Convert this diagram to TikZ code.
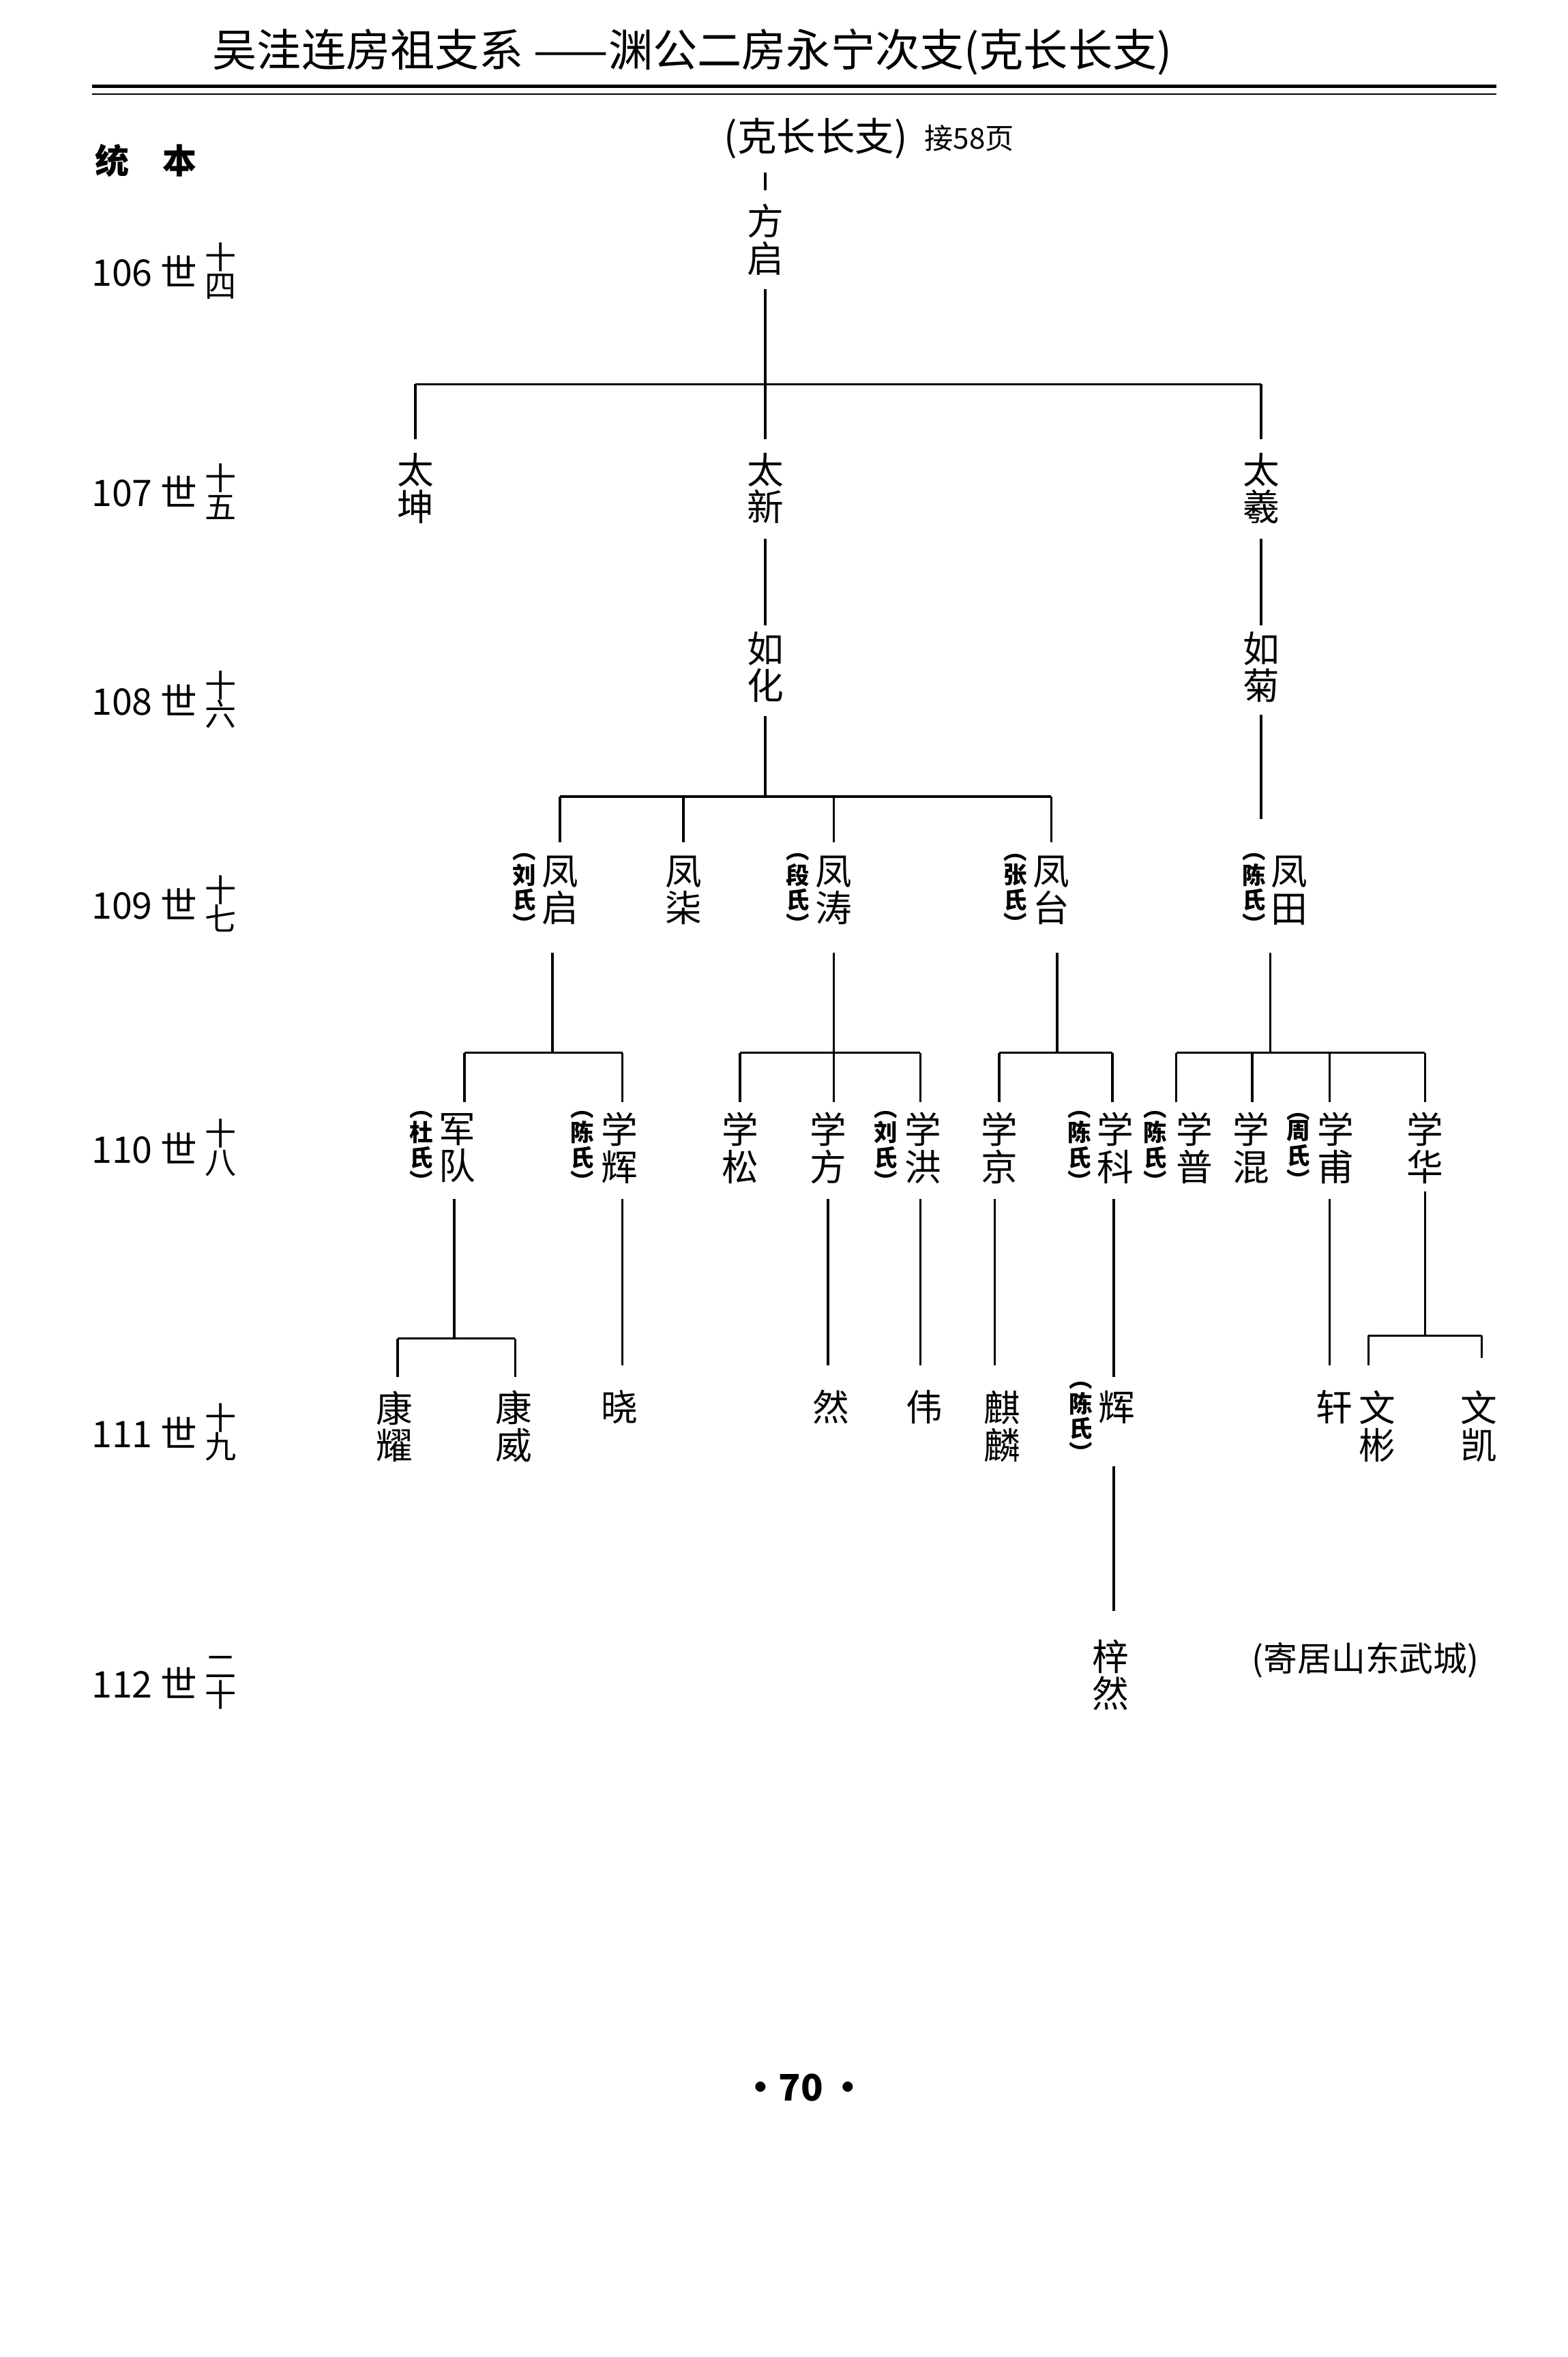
\documentclass[tikz,border=0pt]{standalone}
\usepackage{fontspec}
\setmainfont{Noto Sans CJK SC}
\usetikzlibrary{positioning,calc}

\tikzset{
  person/.style={inner sep=5pt,align=center,font=\fontsize{14}{14.2}\selectfont},
  wife/.style={inner sep=0pt,align=center,font=\fontsize{9}{8}\selectfont\bfseries},
  gen/.style={inner sep=0pt,font=\fontsize{14}{16}\selectfont},
  genno/.style={inner sep=0pt,align=center,font=\fontsize{12}{13}\selectfont},
  link/.style={line width=0.9pt}
}

\begin{document}
\begin{tikzpicture}[x=0.02cm,y=-0.02cm]
\useasboundingbox (0,0) rectangle (1053,1583);

% heading
\node[inner sep=0pt,font=\fontsize{17}{19}\selectfont] (title) at (465,35) {吴洼连房祖支系 ——渊公二房永宁次支(克长长支)};
\draw[line width=1.2pt] (62,58) -- (1005,58);
\draw[line width=0.5pt] (62,63) -- (1005,63);
\node[inner sep=0pt,font=\fontsize{13}{15}\selectfont\bfseries] (tb) at (98,108) {统\hspace{1em}本};
\node[inner sep=0pt,font=\fontsize{15}{17}\selectfont] (branch) at (548,93) {(克长长支)};
\node[inner sep=0pt,font=\fontsize{11}{13}\selectfont,right=6pt of branch] (page58) {接58页};
\coordinate (top) at (514,116);

% generations
\foreach \n/\y/\a/\b in {106/182/十/四,107/330/十/五,108/470/十/六,109/607/十/七,
                         110/771/十/八,111/962/十/九,112/1130/二/十}{
  \node[gen] (g\n) at (97,\y) {\n\ 世};
  \node[genno] (s\n) at (148,\y) {\a\\[-2pt]\b};
}

% persons
\foreach \n/\x/\y/\t in {fq/514/161/方\\启, tk/279/328/太\\坤, tx/514/328/太\\新, ty/847/328/太\\羲,
    rh/514/448/如\\化, rj/847/448/如\\菊,
    fqi/376/598/凤\\启, fc/459/598/凤\\柒, ft/560/598/凤\\涛, fta/706/598/凤\\台, ftn/866/598/凤\\田,
    jd/307/771/军\\队, xh/416/771/学\\辉, xs/497/771/学\\松, xf/556/771/学\\方, xho/620/771/学\\洪,
    xj/671/771/学\\京, xk/749/771/学\\科, xp/802/771/学\\普, xhu/840/771/学\\混, xfu/897/771/学\\甫,
    xhua/957/771/学\\华,
    ky/265/958/康\\耀, kw/345/958/康\\威, xiao/416/945/晓, ran/558/945/然, wei/621/945/伟,
    ql/673/958/麒\\麟, hui/750/945/辉, xuan/896/945/轩, wb/925/958/文\\彬, wk/993/958/文\\凯,
    zr/746/1125/梓\\然}
  \node[person] (\n) at (\x,\y) {\t};

% wives
\foreach \n/\x/\y/\a/\b in {w1/352/600/刘/氏, w2/536/600/段/氏, w3/682/600/张/氏, w4/842/600/陈/氏,
    w5/283/773/杜/氏, w6/391/773/陈/氏, w7/595/773/刘/氏, w8/725/773/陈/氏, w9/776/773/陈/氏,
    w10/872/773/周/氏, w11/726/955/陈/氏}
  \node[wife] (\n) at (\x,\y) {︵\\\a\\\b\\︶};

\node[inner sep=0pt,font=\fontsize{13}{15}\selectfont] (note) at (917,1115) {(寄居山东武城)};
\node[inner sep=0pt,font=\fontsize{14}{16}\selectfont\bfseries] (pg) at (540,1402) {·70\,·};

% the lines
\begin{scope}[link]
\draw (top) -- (fq.north);
\coordinate (b1) at (514,258);
\draw (fq.south) -- (b1);
\draw (b1 -| tk) -- (b1 -| ty);
\foreach \c in {tk,tx,ty} \draw (b1 -| \c) -- (\c.north);
\draw (514,362) -- (514,420);
\draw (847,362) -- (847,420);

\coordinate (b2) at (514,535);
\draw (rh.south) -- (b2);
\draw (b2 -| fqi) -- (b2 -| fta);
\foreach \c in {fqi,fc,ft,fta} \draw (b2 -| \c) -- (\c.north);
\draw (847,480) -- (847,550);

\coordinate (b3) at (371,707);
\draw (371,640) -- (b3);
\draw (312,707) -- (418,707);
\draw (312,707) -- (312,740); \draw (418,707) -- (418,740);

\draw (560,640) -- (560,707);
\draw (497,707) -- (618,707);
\foreach \x in {497,560,618} \draw (\x,707) -- (\x,740);

\draw (710,640) -- (710,707);
\draw (671,707) -- (747,707);
\foreach \x in {671,747} \draw (\x,707) -- (\x,740);

\draw (853,640) -- (853,707);
\draw (790,707) -- (957,707);
\foreach \x in {790,841,893,957} \draw (\x,707) -- (\x,740);

% generation 111
\draw (305,805) -- (305,899);
\draw (267,899) -- (346,899);
\draw (267,899) -- (267,925); \draw (346,899) -- (346,925);
\draw (418,805) -- (418,917);
\draw (556,805) -- (556,917);
\draw (618,805) -- (618,917);
\draw (668,805) -- (668,917);
\draw (748,805) -- (748,925);
\draw (893,805) -- (893,917);
\draw (957,800) -- (957,897);
\draw (919,897) -- (995,897);
\draw (919,897) -- (919,917); \draw (995,897) -- (995,912);

% generation 112
\draw (748,985) -- (748,1082);
\end{scope}
\end{tikzpicture}
\end{document}
